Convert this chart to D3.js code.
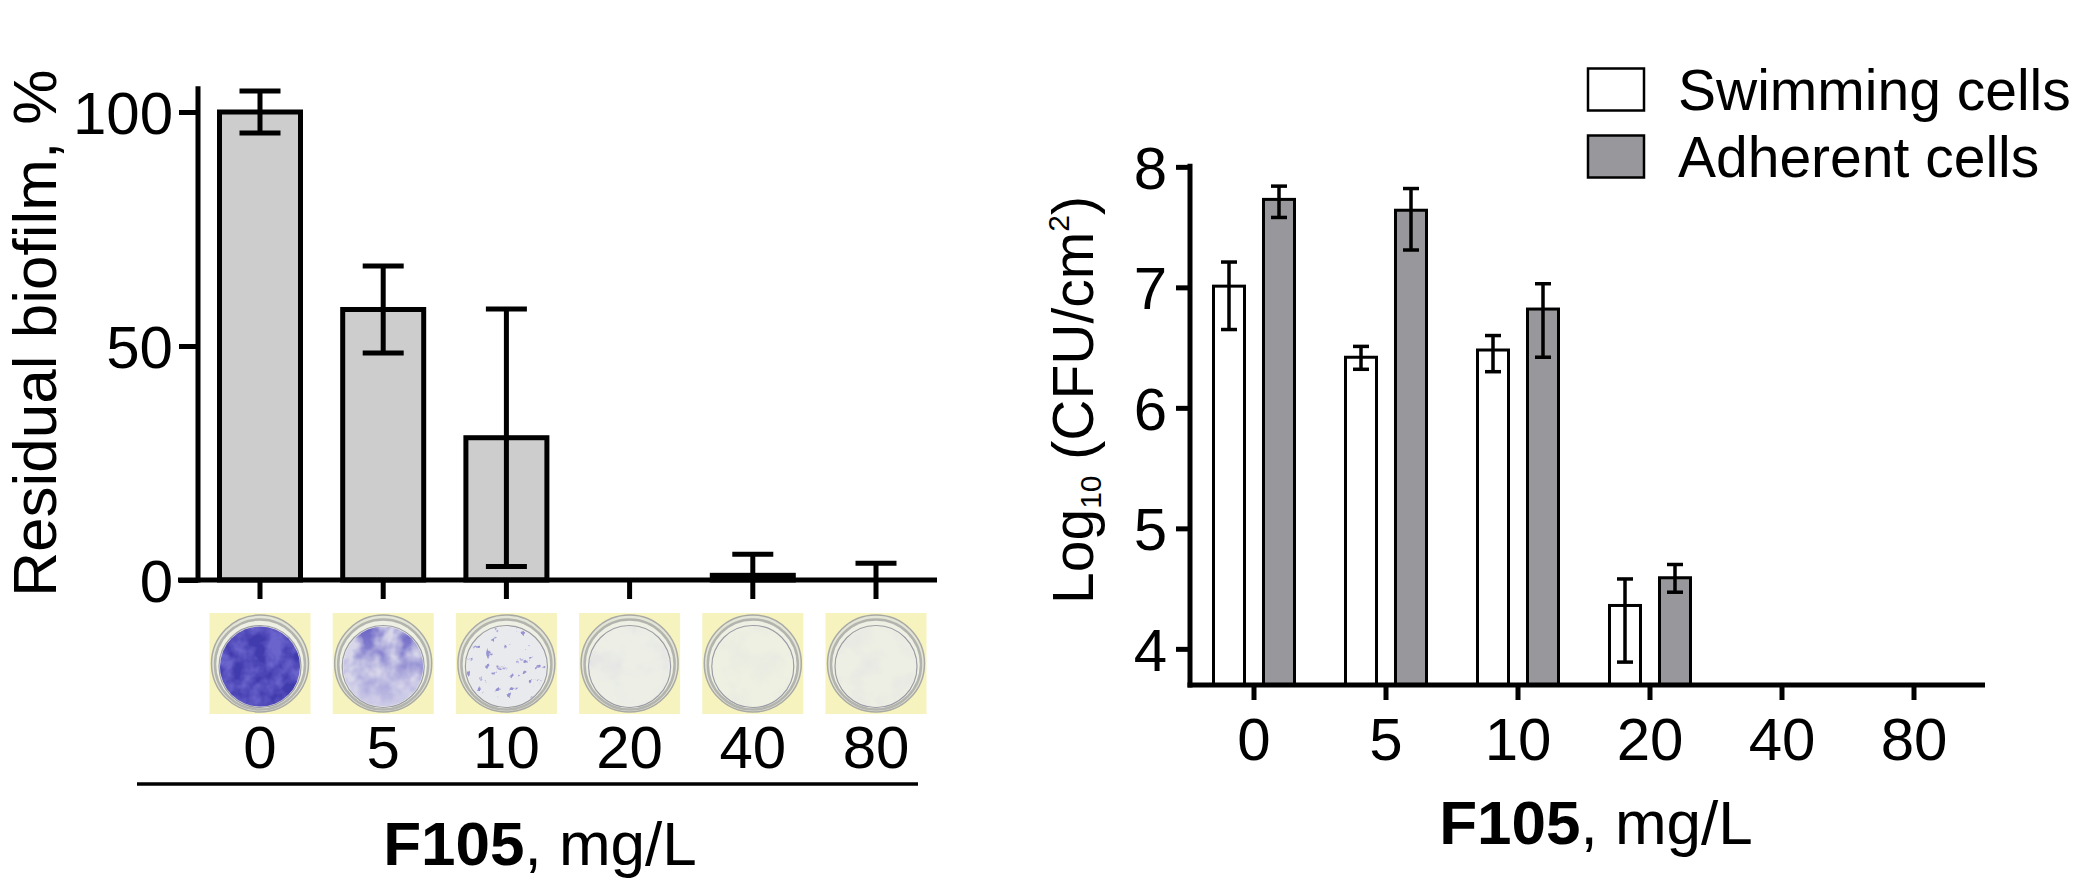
<!DOCTYPE html>
<html>
<head>
<meta charset="utf-8">
<script src="https://cdn.jsdelivr.net/npm/d3@7"></script>
<style>
  body { margin: 0; background: #fff; }
  svg { display: block; font-family: "Liberation Sans", Arial, Helvetica, sans-serif; }
</style>
</head>
<body>
<svg id="chart" width="2080" height="885"></svg>
<script>
// ---------- data ----------
const concentrations = ["0", "5", "10", "20", "40", "80"];

// Left panel: residual biofilm, %
const residualBiofilm = [100, 57.8, 30.4, 0, 1, 0];
const residualErr     = [4.5, 9.3, 27.5, 0, 4.5, 3.6];
const leftTicks = [0, 50, 100];

// Right panel: Log10 (CFU/cm2)
const seriesNames   = ["Swimming cells", "Adherent cells"];
const swimming      = [7.01, 6.42, 6.48, 4.36, null, null];
const swimmingHigh  = [7.21, 6.51, 6.60, 4.58, null, null];
const swimmingLow   = [6.65, 6.32, 6.30, 3.89, null, null];
const adherent      = [7.73, 7.64, 6.82, 4.59, null, null];
const adherentHigh  = [7.84, 7.82, 7.03, 4.70, null, null];
const adherentLow   = [7.58, 7.31, 6.42, 4.47, null, null];
const rightTicks = [4, 5, 6, 7, 8];

// ---------- setup ----------
const svg = d3.select("#chart");
svg.append("rect").attr("width", 2080).attr("height", 885).attr("fill", "#fff");

const defs = svg.append("defs");
function noiseFilter(id, freq, seed, a, b) {
  const f = defs.append("filter").attr("id", id)
    .attr("x", "0").attr("y", "0").attr("width", "100%").attr("height", "100%");
  f.append("feTurbulence").attr("type", "fractalNoise").attr("baseFrequency", freq)
    .attr("numOctaves", 3).attr("seed", seed).attr("result", "noise");
  f.append("feColorMatrix").attr("in", "noise").attr("type", "matrix")
    .attr("values", `0 0 0 0 0  0 0 0 0 0  0 0 0 0 0  ${a} 0 0 0 ${b}`).attr("result", "alpha");
  f.append("feComposite").attr("in", "SourceGraphic").attr("in2", "alpha").attr("operator", "in");
}
noiseFilter("mottleHeavy", 0.06, 4, 2.6, -0.8);
noiseFilter("mottleMid", 0.05, 9, 2.2, -0.6);
noiseFilter("specks", 0.14, 2, 9, -6.0);
noiseFilter("faint", 0.04, 5, 1.6, -0.7);

const topGrad = defs.append("linearGradient").attr("id", "topFade")
  .attr("x1", 0).attr("y1", 0).attr("x2", 0).attr("y2", 1);
topGrad.append("stop").attr("offset", "0%").attr("stop-color", "#fff").attr("stop-opacity", 1);
topGrad.append("stop").attr("offset", "50%").attr("stop-color", "#fff").attr("stop-opacity", 0.6);
topGrad.append("stop").attr("offset", "100%").attr("stop-color", "#fff").attr("stop-opacity", 0.15);
const fadeMask = defs.append("mask").attr("id", "fadeMask").attr("maskContentUnits", "objectBoundingBox");
fadeMask.append("rect").attr("width", 1).attr("height", 1).attr("fill", "url(#topFade)");

const FONT_TICK = 60;
const FONT_TITLE = 62;

// ================= LEFT PANEL =================
const xL = d3.scaleBand().domain(concentrations).range([198.4, 937.6]).paddingInner(0.34).paddingOuter(0.17);
const yL = d3.scaleLinear().domain([0, 100]).range([580, 112]);
const left = svg.append("g");

// bars
left.selectAll("rect.bar").data(concentrations).join("rect")
  .attr("class", "bar")
  .attr("x", d => xL(d) + xL.bandwidth() / 2 - 40.5)
  .attr("width", 81)
  .attr("y", (d, i) => yL(residualBiofilm[i]))
  .attr("height", (d, i) => yL(0) - yL(residualBiofilm[i]))
  .attr("fill", "#cdcdcd").attr("stroke", "#000").attr("stroke-width", 5)
  .attr("display", (d, i) => residualBiofilm[i] > 0 ? null : "none");

// error bars
concentrations.forEach((c, i) => {
  const e = residualErr[i];
  if (!e) return;
  const cx = xL(c) + xL.bandwidth() / 2;
  const v = residualBiofilm[i];
  const hi = v + e, lo = Math.max(0, v - e);
  const g = left.append("g").attr("stroke", "#000").attr("stroke-width", 5);
  g.append("line").attr("x1", cx).attr("x2", cx).attr("y1", yL(lo)).attr("y2", yL(hi));
  g.append("line").attr("x1", cx - 20.5).attr("x2", cx + 20.5).attr("y1", yL(hi)).attr("y2", yL(hi));
  if (v - e > 0) g.append("line").attr("x1", cx - 20.5).attr("x2", cx + 20.5).attr("y1", yL(lo)).attr("y2", yL(lo));
});

// y axis
const yAxisL = left.append("g").attr("transform", "translate(198,0)")
  .call(d3.axisLeft(yL).tickValues(leftTicks).tickFormat(d3.format("d")).tickSize(19).tickPadding(6).tickSizeOuter(0));
yAxisL.select(".domain").remove();
yAxisL.selectAll(".tick line").attr("stroke", "#000").attr("stroke-width", 5);
yAxisL.selectAll(".tick text").attr("font-size", FONT_TICK).attr("fill", "#000").attr("dy", "0.36em")
  .attr("font-family", "Liberation Sans, Arial, sans-serif");
left.append("line").attr("x1", 198).attr("x2", 198).attr("y1", yL(105.5)).attr("y2", yL(0) + 2.5)
  .attr("stroke", "#000").attr("stroke-width", 5);

// x axis
const xAxisL = left.append("g").attr("transform", `translate(0,${yL(0)})`)
  .call(d3.axisBottom(xL).tickSize(19).tickFormat(""));
xAxisL.select(".domain").remove();
xAxisL.selectAll(".tick line").attr("stroke", "#000").attr("stroke-width", 5);
left.append("line").attr("x1", 178).attr("x2", 937).attr("y1", yL(0)).attr("y2", yL(0))
  .attr("stroke", "#000").attr("stroke-width", 5);

// y title
left.append("text").attr("transform", `translate(56,${(yL(0) + yL(105.5)) / 2}) rotate(-90)`)
  .attr("text-anchor", "middle").attr("font-size", FONT_TITLE).attr("fill", "#000")
  .text("Residual biofilm, %");

// wells (crystal-violet stained plate photos, drawn as shapes)
const wellLook = {
  "0":  { base: "#6a64cc", overlay: "#3e37ab", filter: "mottleHeavy", op: 0.9, mask: false },
  "5":  { base: "#d8d7ea", overlay: "#5f58c2", filter: "mottleMid", op: 0.9, mask: true },
  "10": { base: "#e9eaee", overlay: "#7c77c8", filter: "specks", op: 0.75, mask: false },
  "20": { base: "#edefe6", overlay: "#cdcce2", filter: "faint", op: 0.45, mask: false },
  "40": { base: "#eef0e2", overlay: "#d3d2e2", filter: "faint", op: 0.3, mask: false },
  "80": { base: "#edefe4", overlay: "#d0cfe2", filter: "faint", op: 0.35, mask: false }
};
const wells = left.append("g");
concentrations.forEach(c => {
  const cx = xL(c) + xL.bandwidth() / 2;
  const cy = 663.5;
  const look = wellLook[c];
  const g = wells.append("g");
  g.append("rect").attr("x", cx - 50.5).attr("y", cy - 50.5).attr("width", 101).attr("height", 101).attr("fill", "#f6f3bf");
  g.append("circle").attr("cx", cx).attr("cy", cy).attr("r", 48.5)
    .attr("fill", "#e3e5d6").attr("stroke", "#a9aaa5").attr("stroke-width", 1.5);
  g.append("circle").attr("cx", cx).attr("cy", cy + 1).attr("r", 45)
    .attr("fill", "#eef0e3").attr("stroke", "#b3b4ae").attr("stroke-width", 2.5);
  g.append("circle").attr("cx", cx).attr("cy", cy + 3).attr("r", 41)
    .attr("fill", "none").attr("stroke", "#9c9ca6").attr("stroke-width", 1.2);
  g.append("circle").attr("cx", cx).attr("cy", cy + 3).attr("r", 40).attr("fill", look.base);
  const ov = g.append("circle").attr("cx", cx).attr("cy", cy + 3).attr("r", 40)
    .attr("fill", look.overlay).attr("opacity", look.op).attr("filter", `url(#${look.filter})`);
  if (look.mask) ov.attr("mask", "url(#fadeMask)");
});

// x labels
left.selectAll("text.xl").data(concentrations).join("text").attr("class", "xl")
  .attr("x", d => xL(d) + xL.bandwidth() / 2).attr("y", 768)
  .attr("text-anchor", "middle").attr("font-size", FONT_TICK).attr("fill", "#000").text(d => d);

left.append("line").attr("x1", 137).attr("x2", 918).attr("y1", 784).attr("y2", 784)
  .attr("stroke", "#000").attr("stroke-width", 3.5);

const tl = left.append("text").attr("x", 540).attr("y", 865).attr("text-anchor", "middle")
  .attr("font-size", FONT_TITLE).attr("fill", "#000");
tl.append("tspan").attr("font-weight", "bold").text("F105");
tl.append("tspan").text(", mg/L");

// ================= RIGHT PANEL =================
const xR = d3.scaleBand().domain(concentrations).range([1188, 1980]);
const xSub = d3.scaleBand().domain(seriesNames).range([-50, 50]).paddingInner(0.38).paddingOuter(0.19);
const yR = d3.scaleLinear().domain([3.7, 8]).range([685, 685 - 4.3 * 120.5]);
const right = svg.append("g");

const rightSeries = [
  { name: seriesNames[0], vals: swimming, hi: swimmingHigh, lo: swimmingLow, fill: "#ffffff" },
  { name: seriesNames[1], vals: adherent, hi: adherentHigh, lo: adherentLow, fill: "#98989c" }
];

rightSeries.forEach(s => {
  concentrations.forEach((c, i) => {
    const v = s.vals[i];
    if (v == null) return;
    const cx = xR(c) + xR.bandwidth() / 2 + xSub(s.name) + xSub.bandwidth() / 2;
    right.append("rect")
      .attr("x", cx - 15.5).attr("width", 31)
      .attr("y", yR(v)).attr("height", yR.range()[0] - yR(v))
      .attr("fill", s.fill).attr("stroke", "#000").attr("stroke-width", 3);
    const g = right.append("g").attr("stroke", "#000").attr("stroke-width", 3.5);
    g.append("line").attr("x1", cx).attr("x2", cx).attr("y1", yR(s.lo[i])).attr("y2", yR(s.hi[i]));
    g.append("line").attr("x1", cx - 8).attr("x2", cx + 8).attr("y1", yR(s.hi[i])).attr("y2", yR(s.hi[i]));
    g.append("line").attr("x1", cx - 8).attr("x2", cx + 8).attr("y1", yR(s.lo[i])).attr("y2", yR(s.lo[i]));
  });
});

// y axis
const yAxisR = right.append("g").attr("transform", "translate(1190,0)")
  .call(d3.axisLeft(yR).tickValues(rightTicks).tickFormat(d3.format("d")).tickSize(14).tickPadding(9).tickSizeOuter(0));
yAxisR.select(".domain").remove();
yAxisR.selectAll(".tick line").attr("stroke", "#000").attr("stroke-width", 5);
yAxisR.selectAll(".tick text").attr("font-size", FONT_TICK).attr("fill", "#000").attr("dy", "0.36em")
  .attr("font-family", "Liberation Sans, Arial, sans-serif");
right.append("line").attr("x1", 1190).attr("x2", 1190).attr("y1", yR(8) - 3).attr("y2", yR(3.7) + 2.5)
  .attr("stroke", "#000").attr("stroke-width", 5);

// x axis
const xAxisR = right.append("g").attr("transform", `translate(0,${yR(3.7)})`)
  .call(d3.axisBottom(xR).tickSize(15).tickFormat(""));
xAxisR.select(".domain").remove();
xAxisR.selectAll(".tick line").attr("stroke", "#000").attr("stroke-width", 5);
right.append("line").attr("x1", 1187.5).attr("x2", 1985).attr("y1", yR(3.7)).attr("y2", yR(3.7))
  .attr("stroke", "#000").attr("stroke-width", 5);

right.selectAll("text.xr").data(concentrations).join("text").attr("class", "xr")
  .attr("x", d => xR(d) + xR.bandwidth() / 2).attr("y", 760)
  .attr("text-anchor", "middle").attr("font-size", FONT_TICK).attr("fill", "#000").text(d => d);

// y title
const yt = right.append("text").attr("transform", "translate(1093,400) rotate(-90)")
  .attr("text-anchor", "middle").attr("font-size", 57).attr("fill", "#000");
yt.append("tspan").text("Log");
yt.append("tspan").attr("font-size", 30).attr("dy", 8).text("10");
yt.append("tspan").attr("dy", -8).text(" (CFU/cm");
yt.append("tspan").attr("font-size", 30).attr("dy", -24).text("2");
yt.append("tspan").attr("dy", 24).text(")");

// x title
const tr = right.append("text").attr("x", 1596).attr("y", 844).attr("text-anchor", "middle")
  .attr("font-size", FONT_TITLE).attr("fill", "#000");
tr.append("tspan").attr("font-weight", "bold").text("F105");
tr.append("tspan").text(", mg/L");

// legend
const legend = right.append("g");
rightSeries.forEach((s, i) => {
  const yTop = 68.5 + i * 67;
  legend.append("rect").attr("x", 1588).attr("y", yTop).attr("width", 56).attr("height", 42)
    .attr("fill", s.fill).attr("stroke", "#000").attr("stroke-width", 2.5);
  legend.append("text").attr("x", 1678).attr("y", yTop + 41.5).attr("font-size", 57).attr("fill", "#000").text(s.name);
});
</script>
</body>
</html>
